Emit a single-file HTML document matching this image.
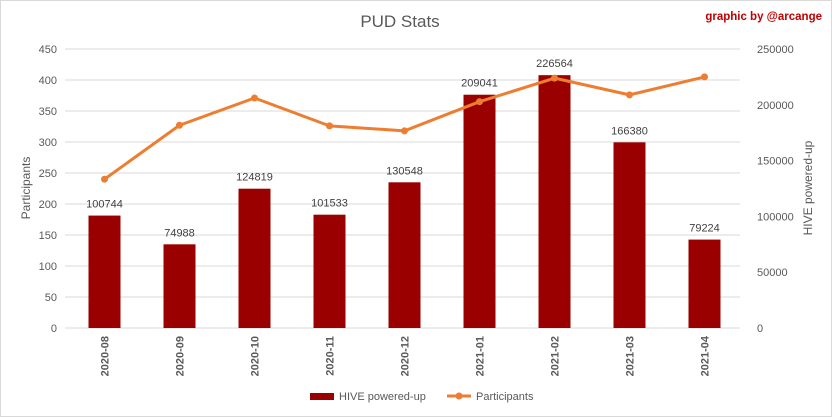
<!DOCTYPE html>
<html><head><meta charset="utf-8"><style>
body{margin:0;background:#fff;font-family:"Liberation Sans",sans-serif}
</style></head><body>
<svg width="832" height="417" viewBox="0 0 832 417" style="display:block">
<rect x="0.5" y="0.5" width="831" height="416" fill="#fff" stroke="#d9d9d9"/>
<text x="400" y="27" font-size="17" fill="#595959" text-anchor="middle">PUD Stats</text>
<text x="822" y="20" font-size="11.5" font-weight="bold" fill="#c00000" text-anchor="end">graphic by @arcange</text>
<g id="grid"></g><g id="bars"></g><g id="line"></g><g id="labels"></g>
<text transform="translate(30,188) rotate(-90)" font-size="12" fill="#595959" text-anchor="middle">Participants</text>
<text transform="translate(812,188) rotate(-90)" font-size="12" fill="#595959" text-anchor="middle">HIVE powered-up</text>
<g>
<rect x="310" y="393" width="24" height="7" fill="#9b0000"/>
<text x="339" y="400" font-size="11" fill="#595959">HIVE powered-up</text>
<line x1="447" y1="396" x2="471" y2="396" stroke="#ed7d31" stroke-width="3"/>
<circle cx="459" cy="396" r="3.5" fill="#ed7d31"/>
<text x="476" y="400" font-size="11" fill="#595959">Participants</text>
</g>
</svg>
<script>
const categories=["2020-08","2020-09","2020-10","2020-11","2020-12","2021-01","2021-02","2021-03","2021-04"];
const hive=[100744,74988,124819,101533,130548,209041,226564,166380,79224];
const participants=[240,327,371,326,318,365,403,376,405];
const leftTicks=[0,50,100,150,200,250,300,350,400,450];
const rightTicks=[0,50000,100000,150000,200000,250000];
const NS="http://www.w3.org/2000/svg";
const x0=67,x1=742,yTop=49,yBot=328;
const step=(x1-x0)/categories.length;
const xc=i=>x0+step*(i+0.5);
const yL=v=>yBot-(v/450)*(yBot-yTop);
const yR=v=>yBot-(v/250000)*(yBot-yTop);
function mk(t,a,p){const e=document.createElementNS(NS,t);for(const k in a)e.setAttribute(k,a[k]);document.getElementById(p).appendChild(e);return e;}
leftTicks.forEach(v=>{
 const l=mk('line',{x1:x0-2,x2:x1-2,y1:yL(v),y2:yL(v),stroke:'#d9d9d9'},'grid');
 
 
 const t=mk('text',{x:57,y:yL(v)+4,'font-size':11,fill:'#595959','text-anchor':'end'},'grid');t.textContent=v;
 
 
});
rightTicks.forEach(v=>{
 const t=mk('text',{x:757,y:yR(v)+4,'font-size':11,fill:'#595959'},'grid');t.textContent=v;
 
 
});
categories.forEach((c,i)=>{
 const y=yR(hive[i]);
 const r=mk('rect',{x:xc(i)-16,y:y,width:32,height:yBot-y,fill:'#9b0000'},'bars');
 
 
 const t=mk('text',{x:xc(i),y:y-8,'font-size':11,fill:'#404040','text-anchor':'middle'},'labels');t.textContent=hive[i];
 
 
 const xl=mk('text',{transform:`translate(${xc(i)+4},336) rotate(-90)`,'font-size':11,'font-weight':'bold',fill:'#595959','text-anchor':'end'},'labels');xl.textContent=c;
 
 
});
const pl=mk('polyline',{points:participants.map((v,i)=>xc(i)+','+yL(v)).join(' '),fill:'none',stroke:'#ed7d31','stroke-width':3,'stroke-linejoin':'round'},'line');


participants.forEach((v,i)=>{
 const c=mk('circle',{cx:xc(i),cy:yL(v),r:3.5,fill:'#ed7d31'},'line');
 
 
});
</script>
</body></html>
